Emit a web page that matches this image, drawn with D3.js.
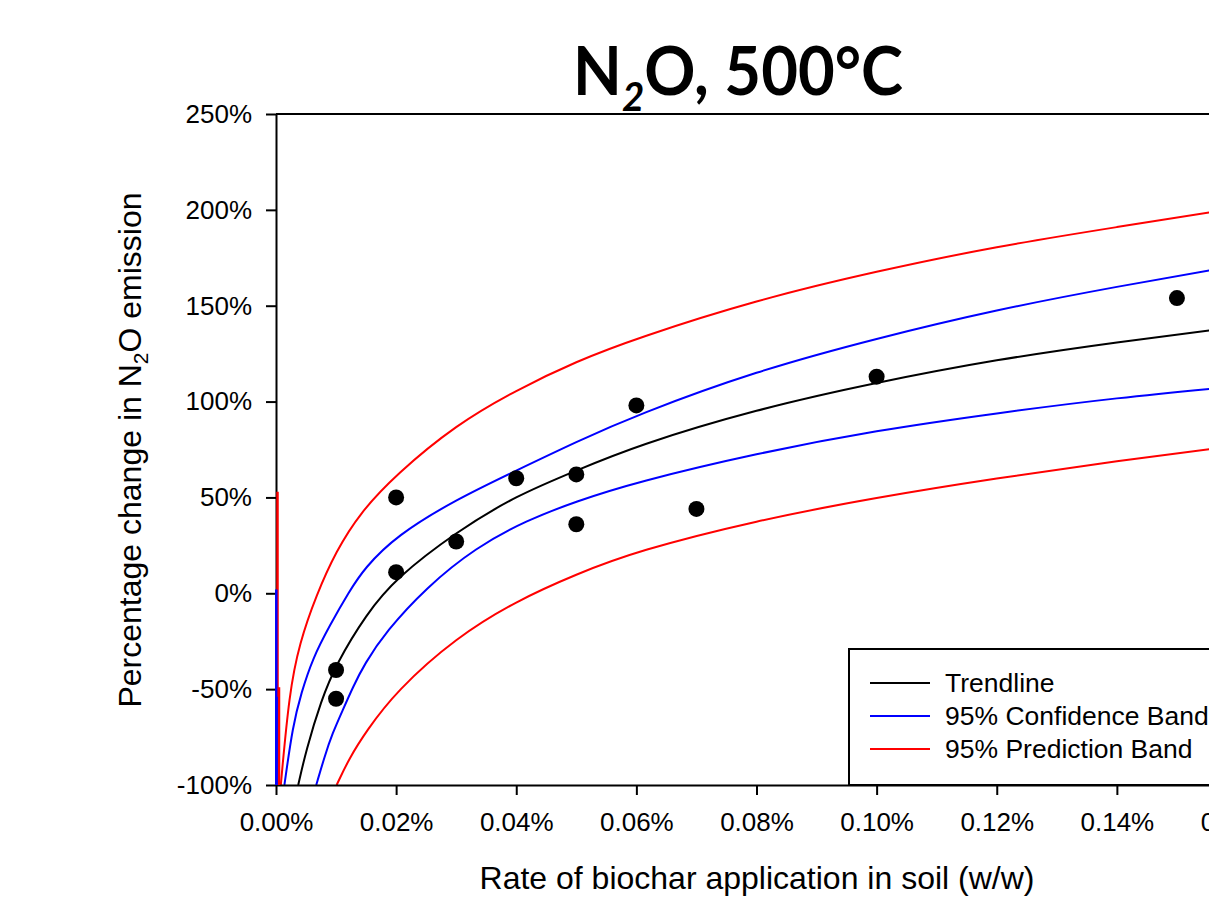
<!DOCTYPE html>
<html>
<head>
<meta charset="utf-8">
<script src="https://cdn.jsdelivr.net/npm/d3@7"></script>
<style>
  body { margin: 0; background: #fff; }
  svg { display: block; font-family: "Liberation Sans", Arial, sans-serif; }
</style>
</head>
<body>
<div id="chart"></div>
<script>
// axis ticks
const xTicks = [0, 0.02, 0.04, 0.06, 0.08, 0.10, 0.12, 0.14, 0.16];
const yTicks = [-100, -50, 0, 50, 100, 150, 200, 250];

// observed points (rate in %, change in %)
const obsX = [0.01, 0.01, 0.02, 0.02, 0.03, 0.04, 0.05, 0.05, 0.06, 0.07, 0.10, 0.15];
const obsY = [-40, -55, 50, 11, 27, 60, 62, 36, 98, 44, 113, 154];

// curves
const trendX = [0.0037, 0.005, 0.0075, 0.01, 0.015, 0.02, 0.03, 0.04, 0.05, 0.06, 0.08, 0.10, 0.12, 0.14, 0.16];
const trendY = [-100, -82, -56, -37, -11, 8, 32, 51, 64, 77, 96, 110, 122, 131, 139];

const confUpX = [0.0014, 0.0028, 0.0042, 0.0061, 0.0089, 0.0122, 0.0147, 0.02, 0.03, 0.04, 0.05, 0.06, 0.08, 0.10, 0.12, 0.14, 0.16];
const confUpY = [-100, -69, -52, -34, -17, 1, 13, 30, 49, 64, 79, 93, 116, 133, 148, 160, 171];

const confLoX = [0.0067, 0.0081, 0.0094, 0.0111, 0.0128, 0.0147, 0.0183, 0.025, 0.0333, 0.0417, 0.05, 0.06, 0.08, 0.10, 0.12, 0.14, 0.16];
const confLoY = [-100, -85, -73, -61, -49, -37, -20, 3, 24, 38, 48, 58, 73, 85, 94, 102, 108];

const predUpX = [0.0008, 0.0022, 0.0039, 0.0067, 0.01, 0.014, 0.02, 0.03, 0.04, 0.05, 0.06, 0.08, 0.10, 0.12, 0.14, 0.16];
const predUpY = [-100, -52, -26, -1, 22, 42, 62, 88, 106, 121, 133, 153, 168, 181, 191, 201];

const predLoX = [0.0101, 0.0122, 0.015, 0.02, 0.03, 0.04, 0.05, 0.06, 0.08, 0.10, 0.12, 0.14, 0.16];
const predLoY = [-100, -86, -72, -51, -23, -4, 10, 22, 38, 50, 60, 69, 77];

// stray vertical strokes at the origin
const spikeX = [0.00025, 0.00005, 0.0005, 0.0001];
const spikeTop = [53, 2, -49, -54];
const spikeBand = ['pred', 'conf', 'pred', 'conf'];

const legendLabels = ['Trendline', '95% Confidence Band', '95% Prediction Band'];

const colors = { trend: '#000000', conf: '#0000ff', pred: '#ff0000' };

const W = 1209, H = 901;
const svg = d3.select('#chart').append('svg').attr('width', W).attr('height', H);

const x = d3.scaleLinear().domain([0, 0.16]).range([276, 1237]);
const y = d3.scaleLinear().domain([-100, 250]).range([785, 114]);

svg.append('clipPath').attr('id', 'plot-clip')
  .append('rect')
  .attr('x', x(0)).attr('y', y(250))
  .attr('width', x(0.16) - x(0)).attr('height', y(-100) - y(250));

const plot = svg.append('g').attr('clip-path', 'url(#plot-clip)');

const line = d3.line().x(d => x(d[0])).y(d => y(d[1])).curve(d3.curveBasis);
const zip = (xs, ys) => xs.map((v, i) => [v, ys[i]]);

const series = [
  { key: 'pred', pts: zip(predUpX, predUpY) },
  { key: 'pred', pts: zip(predLoX, predLoY) },
  { key: 'conf', pts: zip(confUpX, confUpY) },
  { key: 'conf', pts: zip(confLoX, confLoY) },
  { key: 'trend', pts: zip(trendX, trendY) },
];

plot.selectAll('path.curve')
  .data(series)
  .enter().append('path')
  .attr('class', 'curve')
  .attr('d', d => line(d.pts))
  .attr('fill', 'none')
  .attr('stroke', d => colors[d.key])
  .attr('stroke-width', 2);

// points
svg.append('g').selectAll('circle')
  .data(zip(obsX, obsY))
  .enter().append('circle')
  .attr('cx', d => x(d[0]))
  .attr('cy', d => y(d[1]))
  .attr('r', 8)
  .attr('fill', '#000');

// top frame line
svg.append('line')
  .attr('x1', x(0)).attr('x2', x(0.16))
  .attr('y1', y(250)).attr('y2', y(250))
  .attr('stroke', '#000').attr('stroke-width', 2);

// axes
const yAxis = svg.append('g')
  .attr('transform', `translate(${x(0)},0)`)
  .call(d3.axisLeft(y).tickValues(yTicks).tickFormat(d => d + '%').tickSize(10).tickSizeOuter(0).tickPadding(14));

const xAxis = svg.append('g')
  .attr('transform', `translate(0,${y(-100)})`)
  .call(d3.axisBottom(x).tickValues(xTicks).tickFormat(d => d.toFixed(2) + '%').tickSize(10).tickSizeOuter(0).tickPadding(18));

[yAxis, xAxis].forEach(g => {
  g.attr('font-size', 26).attr('font-family', '"Liberation Sans", Arial, sans-serif');
  g.selectAll('path.domain').attr('stroke-width', 2);
  g.selectAll('.tick line').attr('stroke-width', 2);
  g.selectAll('.tick text').attr('fill', '#000');
});

// spikes near zero, drawn over the axis line
svg.append('g').selectAll('line')
  .data(spikeX.map((v, i) => ({ x: v, top: spikeTop[i], band: spikeBand[i] })))
  .enter().append('line')
  .attr('x1', d => x(d.x)).attr('x2', d => x(d.x))
  .attr('y1', y(-100)).attr('y2', d => y(d.top))
  .attr('stroke', d => colors[d.band])
  .attr('stroke-width', 2.5);

// legend
const legend = svg.append('g');
legend.append('rect')
  .attr('x', 849).attr('y', 649)
  .attr('width', 420).attr('height', y(-100) - 649)
  .attr('fill', '#fff').attr('stroke', '#000').attr('stroke-width', 2);

const legendKeys = ['trend', 'conf', 'pred'];
legendLabels.forEach((lab, i) => {
  const ly = 683 + i * 33;
  legend.append('line')
    .attr('x1', 870).attr('x2', 930).attr('y1', ly).attr('y2', ly)
    .attr('stroke', colors[legendKeys[i]]).attr('stroke-width', 2);
  legend.append('text')
    .attr('x', 945).attr('y', ly + 9)
    .attr('font-size', 26.5)
    .text(lab);
});

// axis titles
svg.append('text')
  .attr('x', 757).attr('y', 889)
  .attr('text-anchor', 'middle')
  .attr('font-size', 32)
  .text('Rate of biochar application in soil (w/w)');

const yl = svg.append('text')
  .attr('transform', 'translate(141,450) rotate(-90)')
  .attr('text-anchor', 'middle')
  .attr('font-size', 32);
yl.append('tspan').text('Percentage change in N');
yl.append('tspan').attr('font-size', 21).attr('dy', 7).text('2');
yl.append('tspan').attr('dy', -7).text('O emission');

// title
const title = svg.append('text')
  .attr('text-anchor', 'middle')
  .attr('font-family', 'Lato, "Open Sans", sans-serif')
  .attr('font-weight', 700)
  .attr('font-size', 66)
  .attr('transform', 'translate(738,95)');
title.append('tspan').text('N');
title.append('tspan').attr('font-size', 40).attr('font-style', 'italic').attr('dy', 16).text('2');
title.append('tspan').attr('dy', -16).text('O, 500°C');
const tw = title.node().getBBox().width;
title.attr('transform', `translate(738,95) scale(${330 / tw},1)`);
</script>
</body>
</html>
